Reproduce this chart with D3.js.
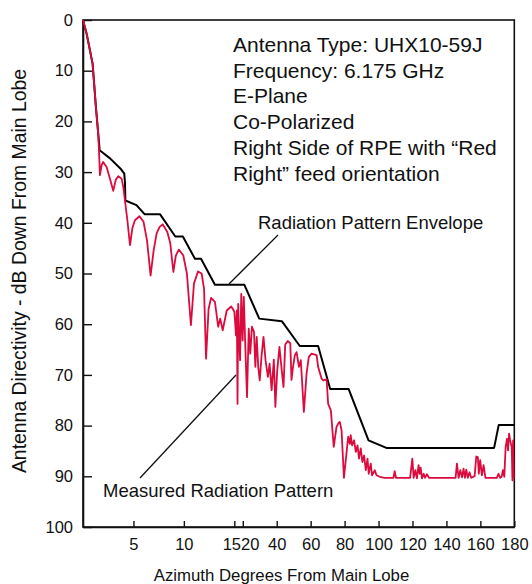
<!DOCTYPE html>
<html>
<head>
<meta charset="utf-8">
<script src="https://cdn.jsdelivr.net/npm/d3@7"></script>
<style>
  html, body { margin: 0; padding: 0; background: #fff; }
  svg { display: block; font-family: "Liberation Sans", Arial, sans-serif; }
</style>
</head>
<body>
<svg id="chart" width="532" height="584"></svg>
<script>
// ---------- DATA ----------
const xTickValues = [5, 10, 15, 20, 40, 60, 80, 100, 120, 140, 160, 180];
const xTickLabels = ["5", "10", "15", "20", "40", "60", "80", "100", "120", "140", "160", "180"];
const yTickValues = [0, 10, 20, 30, 40, 50, 60, 70, 80, 90, 100];
const yTickLabels = ["0", "10", "20", "30", "40", "50", "60", "70", "80", "90", "100"];

// Radiation Pattern Envelope (azimuth deg, dB down)
const envAz = [0, 0.36, 0.69, 0.95, 1.08, 1.28, 1.51, 1.65, 2.68, 3.8, 4.09, 4.16, 4.2, 5.3, 6.1, 7.63, 9.15, 9.9, 11.1, 11.7, 13.08, 20.9, 29.7, 43.0, 53.6, 64.4, 71.5, 82.4, 94.1, 104.6, 168.1, 170.8, 180];
const envDb = [0, 2.7, 6, 8.6, 11.9, 17.2, 22.4, 25.7, 27.3, 29.5, 30.3, 32, 35.6, 36.5, 38.3, 38.3, 42.7, 42.7, 47.1, 47.1, 52.2, 52.2, 58.9, 59.4, 64.3, 64.3, 72.8, 72.8, 82.9, 84.4, 84.4, 79.9, 79.9];

// Measured Radiation Pattern
const measAz = [0, 0.36, 0.69, 0.95, 1.08, 1.28, 1.51, 1.6, 1.68, 1.85, 2.0, 2.34, 2.7, 3.0, 3.25, 3.5, 3.83, 4.0, 4.16, 4.4, 4.66, 4.9, 5.15, 5.6, 6.0, 6.35, 6.7, 7.0, 7.3, 7.6, 7.9, 8.36, 8.65, 8.96, 9.2, 9.5, 9.94, 10.3, 10.7, 11.0, 11.4, 11.76, 12.0, 12.2, 12.45, 12.7, 13.08, 13.4, 13.6, 13.85, 14.25, 14.7, 15.0,
  15.4, 16.0, 16.5, 16.9, 17.3, 17.8, 18.4, 19.1, 19.9, 20.6, 21.5, 22.5, 23.5, 24.4, 25.4, 26.6, 27.4, 28.2, 29.1, 30.0, 31.0, 32.2, 33.4, 34.8, 35.8, 37.0, 38.3, 39.2, 40.3, 41.6, 42.9, 44.0, 45.0, 46.5, 48.0, 48.7, 49.6, 50.7, 51.7, 53.1, 54.2, 56.0, 57.6, 58.9, 60.5, 63.5, 64.4, 66.4, 67.4, 69.4, 70.3, 71.9,
  73.6, 75.2, 76.4, 77.2, 78.2, 79.6, 81.1, 82.1, 83.1, 83.6, 84.4, 85.6, 86.6, 87.6, 88.5, 89.5, 90.5, 91.5, 92.5, 93.5, 94.2, 95.4, 96.2, 97.8, 98.8, 100.7, 103.6, 108.8, 109.5, 110.3, 118.6, 119.9, 120.7, 121.7, 122.6, 123.6, 124.2, 124.8, 125.6, 126.6, 127.4, 128.5, 129.7, 145.4, 146.2, 147.2, 148.2, 149.2, 150.1, 150.9, 151.7, 152.6, 153.6, 154.6, 156.6, 157.6, 158.5, 159.1, 159.9, 160.9, 161.9, 163.0, 169.7, 170.7, 171.7, 172.5, 173.3, 174.1, 174.9, 175.7, 176.3, 176.9, 177.7, 178.5, 178.9, 179.3, 179.6];
const measDb = [0, 2.7, 6, 8.6, 11.9, 17.2, 22.4, 26.5, 30.6, 28.6, 28, 29, 31.5, 33.7, 31.5, 30.8, 31.3, 33, 35.6, 39.5, 44.4, 41, 39.5, 38.7, 39.8, 43.5, 50.4, 45.5, 42.1, 40.8, 40.3, 41.8, 44, 49.7, 46.5, 45.3, 46.4, 50, 60.2, 52, 49.6, 50, 53, 66.8, 57, 54.8, 55.6, 60.5, 58.9, 61.2, 57.3, 56.5, 57.5,
  59.2, 62.2, 57.3, 75.7, 56, 61.9, 67.1, 54.0, 63.2, 54.6, 64.5, 74.4, 60.9, 65.8, 60.5, 61.5, 68.4, 62.5, 68.4, 71.1, 66.5, 62.5, 67.1, 70.4, 67.8, 73.0, 67.0, 76.3, 69.1, 64.5, 68.9, 72.4, 64.0, 63.3, 63.8, 71.0, 68.4, 66.1, 65.5, 68.4, 67.1, 77.3, 69.7, 66.5, 65.8, 66.1, 68.4, 70.7, 71.1, 70.9, 75.7, 77,
  84.2, 80.3, 79.5, 79.3, 80.9, 90.3, 85.5, 82.2, 83.6, 81.9, 83.9, 82.9, 85.2, 83.9, 86.5, 84.5, 87.2, 85.9, 88.8, 86.5, 89.5, 87.5, 89.8, 88.8, 89.8, 90.1, 90.3, 90.3, 89.0, 90.3, 90.3, 86.5, 90.3, 88.8, 90.4, 87.8, 89.5, 88.3, 90.4, 89.5, 90.3, 89.6, 90.3, 90.3, 87.5, 90.3, 88.8, 90.2, 88.5, 90.3, 88.7, 90.3, 89.2, 90.3, 90, 86.1, 86.2, 89.5, 86.8, 89.8, 87.8, 90.3, 90.3, 89.5, 90.3, 90.1, 88.8, 90.1, 84.2, 82.6, 84.9, 81.6, 83.2, 84.2, 90.8, 82.9, 90.5];

const infoLines = ["Antenna Type: UHX10-59J", "Frequency: 6.175 GHz", "E-Plane", "Co-Polarized", "Right Side of RPE with \u201CRed", "Right\u201D feed orientation"];
const envLabel = "Radiation Pattern Envelope";
const measLabel = "Measured Radiation Pattern";
const xTitle = "Azimuth Degrees From Main Lobe";
const yTitle = "Antenna Directivity - dB Down From Main Lobe";

// ---------- CHART ----------
const svg = d3.select("#chart");
const pLeft = 83, pRight = 514.3, pTop = 20, pBottom = 527;

const x = d3.scaleLinear().domain([0, 15, 180]).range([pLeft, 234.3, pRight]);
const y = d3.scaleLinear().domain([0, 100]).range([pTop, pBottom]);

const RED = "#dc0b3e";

// frame
svg.append("rect")
  .attr("x", pLeft).attr("y", pTop)
  .attr("width", pRight - pLeft).attr("height", pBottom - pTop)
  .attr("fill", "none").attr("stroke", "#111").attr("stroke-width", 1.6);

// y axis
const yAxis = d3.axisLeft(y).tickValues(yTickValues)
  .tickFormat((d, i) => yTickLabels[i]).tickSizeInner(-9).tickSizeOuter(0).tickPadding(10);
const gy = svg.append("g").attr("transform", `translate(${pLeft},0)`).call(yAxis);
gy.select(".domain").attr("stroke", "#111").attr("stroke-width", 1.6);
gy.selectAll(".tick line").attr("stroke", "#111").attr("stroke-width", 1.4);
gy.selectAll(".tick text").attr("font-size", 16.5).attr("fill", "#111")
  .attr("font-family", "Liberation Sans, Arial, sans-serif").attr("x", -10);

// x axis
const xAxis = d3.axisBottom(x).tickValues(xTickValues)
  .tickFormat((d, i) => xTickLabels[i]).tickSizeInner(-6).tickSizeOuter(0).tickPadding(12);
const gx = svg.append("g").attr("transform", `translate(0,${pBottom})`).call(xAxis);
gx.select(".domain").attr("stroke", "#111").attr("stroke-width", 1.6);
gx.selectAll(".tick line").attr("stroke", "#111").attr("stroke-width", 1.4);
gx.selectAll(".tick text").attr("font-size", 16.5).attr("fill", "#111")
  .attr("font-family", "Liberation Sans, Arial, sans-serif")
  .attr("y", 0).attr("dy", "1.4em")
  .attr("dx", d => d === 15 ? -3 : (d === 20 ? 7 : 0));

// lines
const line = d3.line().x(d => x(d[0])).y(d => y(d[1]));
const envData = envAz.map((a, i) => [a, envDb[i]]);
const measData = measAz.map((a, i) => [a, measDb[i]]);

svg.append("path").datum(envData).attr("d", line)
  .attr("fill", "none").attr("stroke", "#000").attr("stroke-width", 2).attr("stroke-linejoin", "round");
svg.append("path").datum(measData).attr("d", line)
  .attr("fill", "none").attr("stroke", RED).attr("stroke-width", 1.8).attr("stroke-linejoin", "round");

// info text
const info = svg.append("text").attr("font-size", 21).attr("fill", "#111");
infoLines.forEach((t, i) => {
  info.append("tspan").attr("x", 233).attr("y", 51.7 + i * 25.8).text(t);
});

// labels with leader lines
svg.append("text").attr("x", 258).attr("y", 229).attr("font-size", 18.5).attr("fill", "#111").text(envLabel);
svg.append("line").attr("x1", 278).attr("y1", 235).attr("x2", 229).attr("y2", 284)
  .attr("stroke", "#111").attr("stroke-width", 1.3);

svg.append("text").attr("x", 103).attr("y", 497).attr("font-size", 18.5).attr("fill", "#111").text(measLabel);
svg.append("line").attr("x1", 140).attr("y1", 478).attr("x2", 236).attr("y2", 375)
  .attr("stroke", "#111").attr("stroke-width", 1.3);

// axis titles
svg.append("text").attr("x", 281.5).attr("y", 581).attr("text-anchor", "middle")
  .attr("font-size", 16.8).attr("fill", "#111").text(xTitle);
svg.append("text").attr("transform", "translate(26,271) rotate(-90)").attr("text-anchor", "middle")
  .attr("font-size", 19.4).attr("fill", "#111").text(yTitle);
</script>
</body>
</html>
